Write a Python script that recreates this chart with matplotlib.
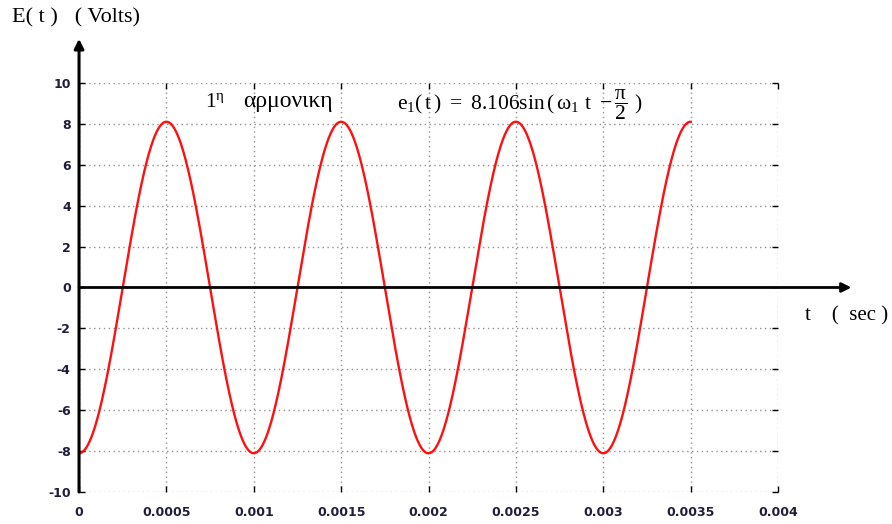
import numpy as np
import matplotlib
matplotlib.use('Agg')
import matplotlib.pyplot as plt
import matplotlib.transforms as mtransforms

# 1st harmonic: e1(t) = 8.106 sin(w1 t - pi/2), f1 = 1 kHz
AMPLITUDE = 8.106
FREQ = 1000.0
PHASE = -np.pi / 2
T_END = 0.0035

x_ticks = [0, 0.0005, 0.001, 0.0015, 0.002, 0.0025, 0.003, 0.0035, 0.004]
x_labels = ['0', '0.0005', '0.001', '0.0015', '0.002', '0.0025', '0.003', '0.0035', '0.004']
y_ticks = [-10, -8, -6, -4, -2, 0, 2, 4, 6, 8, 10]

t = np.linspace(0, T_END, 1500)
e1 = AMPLITUDE * np.sin(2 * np.pi * FREQ * t + PHASE)

plt.rcParams['axes.unicode_minus'] = False
plt.rcParams['mathtext.fontset'] = 'custom'
plt.rcParams['mathtext.rm'] = 'Liberation Serif'
plt.rcParams['mathtext.it'] = 'Liberation Serif'

fig = plt.figure(figsize=(8.92, 5.24), dpi=100)
ax = fig.add_axes([0.0886, 0.0611, 0.7836, 0.7805])

ax.set_xlim(0, 0.004)
ax.set_ylim(-10, 10)
for s in ax.spines.values():
    s.set_visible(False)

ax.set_xticks(x_ticks)
ax.set_xticklabels(x_labels)
ax.set_yticks(y_ticks)
tick_color = '#1e1e3c'
ax.tick_params(axis='both', direction='in', length=4, width=1, color='black',
               top=True, right=True, labelsize=9, labelcolor=tick_color)
ax.tick_params(axis='x', pad=10)
ax.tick_params(axis='y', pad=6)
for lab in ax.get_xticklabels() + ax.get_yticklabels():
    lab.set_fontweight('bold')

ax.grid(True, color='#909090', linestyle=(0, (1, 2.5)), linewidth=1.0)

ax.plot(t, e1, color='#ff1010', linewidth=1.7, zorder=3)

# axes with arrow heads: vertical at t = 0, horizontal at E = 0
ax.annotate('', xy=(0, 1.108), xytext=(0, 0),
            xycoords=mtransforms.blended_transform_factory(ax.transData, ax.transAxes),
            arrowprops=dict(arrowstyle='-|>', color='black', lw=2.2,
                            mutation_scale=14, shrinkA=0, shrinkB=0),
            annotation_clip=False, zorder=4)
ax.annotate('', xy=(1.105, 0), xytext=(0, 0),
            xycoords=mtransforms.blended_transform_factory(ax.transAxes, ax.transData),
            arrowprops=dict(arrowstyle='-|>', color='black', lw=2.0,
                            mutation_scale=14, shrinkA=0, shrinkB=0),
            annotation_clip=False, zorder=4)

serif = 'Liberation Serif'
fig.text(12 / 892, 1 - 18 / 524, 'E( t )   ( Volts)', family=serif, fontsize=16,
         ha='left', va='center')
fig.text(805 / 892, 1 - 316 / 524, 't    (  sec )', family=serif, fontsize=15,
         ha='left', va='center')
fig.text(205 / 892, 1 - 101 / 524, r'$1^{\eta}$', fontsize=15.5,
         ha='left', va='center')
fig.text(243 / 892, 1 - 101 / 524, 'αρμονικη', family=serif, fontsize=17,
         ha='left', va='center')
fig.text(397 / 892, 1 - 105 / 524,
         r'$\mathrm{e}_1(\,t\,)\ =\ 8.106\mathrm{sin}\,(\,\omega_1\ t\ -\dfrac{\pi}{2}\ )$',
         fontsize=15.5, ha='left', va='center')

fig.savefig('out.png', dpi=100)
